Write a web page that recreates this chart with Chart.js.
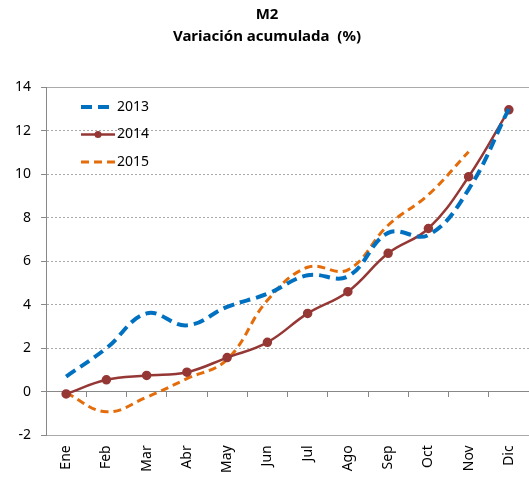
<!DOCTYPE html>
<html>
<head>
<meta charset="utf-8">
<script src="https://cdn.jsdelivr.net/npm/chart.js@4.4.0/dist/chart.umd.min.js"></script>
<style>
  html, body { margin: 0; background: #fff; }
  #wrap { width: 529px; height: 485px; }
</style>
</head>
<body>
<div id="wrap"><canvas id="c"></canvas></div>
<script>
// M2, variación acumulada (%) por mes
const months = ['Ene', 'Feb', 'Mar', 'Abr', 'May', 'Jun', 'Jul', 'Ago', 'Sep', 'Oct', 'Nov', 'Dic'];
const v2013 = [0.7, 2.0, 3.6, 3.05, 3.9, 4.5, 5.35, 5.3, 7.3, 7.2, 9.3, 13.0];
const v2014 = [-0.1, 0.55, 0.75, 0.9, 1.57, 2.27, 3.6, 4.6, 6.36, 7.5, 9.88, 12.95];
const v2015 = [-0.05, -0.92, -0.25, 0.6, 1.48, 4.2, 5.72, 5.6, 7.65, 9.05, 11.03];
const yTicks = { min: -2, max: 14, step: 2 };

const FONT = '"Noto Sans", sans-serif';

// legend drawn inside the plot area, top-left
const insideLegend = {
  id: 'insideLegend',
  afterDatasetsDraw(chart) {
    const { ctx, chartArea } = chart;
    chart.data.datasets.forEach((ds, i) => {
      const y = chartArea.top + 20 + i * 27.5;
      const x0 = chartArea.left + 35, x1 = x0 + 34;
      ctx.save();
      ctx.strokeStyle = ds.borderColor;
      ctx.lineWidth = ds.borderWidth;
      ctx.setLineDash(ds.borderDash || []);
      ctx.beginPath();
      ctx.moveTo(x0, y);
      ctx.lineTo(x1, y);
      ctx.stroke();
      if (ds.pointRadius) {
        ctx.setLineDash([]);
        ctx.fillStyle = ds.pointBackgroundColor;
        ctx.beginPath();
        ctx.arc((x0 + x1) / 2, y, ds.pointRadius, 0, Math.PI * 2);
        ctx.fill();
      }
      ctx.fillStyle = '#000';
      ctx.font = '14px ' + FONT;
      ctx.textBaseline = 'middle';
      ctx.fillText(ds.label, x1 + 2, y);
      ctx.restore();
    });
  }
};

new Chart(document.getElementById('c'), {
  type: 'line',
  data: {
    labels: months,
    datasets: [
      {
        label: '2013',
        data: v2013,
        borderColor: '#0070C0',
        borderWidth: 4,
        borderDash: [11, 6],
        pointRadius: 0,
        tension: 0.4
      },
      {
        label: '2014',
        data: v2014,
        borderColor: '#953735',
        borderWidth: 2.5,
        pointRadius: 3.5,
        pointBackgroundColor: '#953735',
        pointBorderColor: '#953735',
        tension: 0.4
      },
      {
        label: '2015',
        data: v2015,
        borderColor: '#E46C0A',
        borderWidth: 3,
        borderDash: [8, 5],
        pointRadius: 0,
        tension: 0.4
      }
    ]
  },
  options: {
    responsive: true,
    maintainAspectRatio: false,
    animation: false,
    layout: { autoPadding: false, padding: { left: 5, right: 0, top: 0, bottom: 2 } },
    plugins: {
      legend: { display: false },
      tooltip: { enabled: false },
      title: {
        display: true,
        text: ['M2', 'Variación acumulada  (%)'],
        color: '#000',
        font: { family: FONT, size: 15, weight: 'bold', lineHeight: 1.5 },
        padding: { top: 3, bottom: 39 }
      }
    },
    scales: {
      x: {
        type: 'category',
        position: 'bottom',
        offset: true,
        grid: { display: false, drawTicks: false },
        border: { display: false },
        ticks: { minRotation: 90, maxRotation: 90, color: '#000', font: { family: FONT, size: 14 }, padding: 10 },
        // plot runs to the right edge, as in the original
        afterFit: scale => { scale.paddingRight = 0; scale.paddingLeft = 0; }
      },
      x0: {
        axis: 'x',
        type: 'category',
        labels: months,
        position: { y: 0 },
        offset: true,
        grid: { display: true, offset: true, drawOnChartArea: false, drawTicks: true, tickLength: 5, color: '#888' },
        border: { display: true, color: '#888', width: 1 },
        ticks: { display: false }
      },
      y: {
        min: yTicks.min,
        max: yTicks.max,
        ticks: { stepSize: yTicks.step, color: '#000', font: { family: FONT, size: 14 }, padding: 10 },
        grid: { color: '#aaa', tickLength: 5, tickColor: '#888' },
        border: {
          color: '#888',
          dash: ctx => (!ctx.tick || ctx.tick.value === yTicks.max || ctx.tick.value === yTicks.min) ? [] : [2, 2]
        }
      }
    }
  },
  plugins: [insideLegend]
});
</script>
</body>
</html>
